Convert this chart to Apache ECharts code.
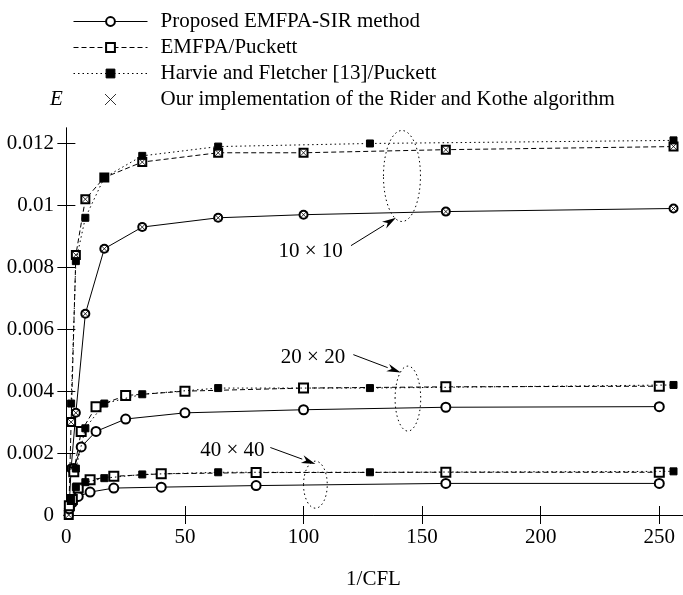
<!DOCTYPE html>
<html>
<head>
<meta charset="utf-8">
<script src="https://cdn.jsdelivr.net/npm/echarts@6/dist/echarts.min.js"></script>
<style>
  html, body { margin: 0; padding: 0; background: #fff; }
  #main { width: 683px; height: 595px; }
</style>
</head>
<body>
<div id="main"></div>
<script>
// series names
const nameP = 'Proposed EMFPA-SIR method';
const nameE = 'EMFPA/Puckett';
const nameH = 'Harvie and Fletcher [13]/Puckett';
const nameR = 'Our implementation of the Rider and Kothe algorithm';

// 10 x 10 mesh
const xP10 = [1, 2, 4, 8, 16, 32, 64, 100, 160, 256];
const yP10 = [0, 0.0015, 0.0033, 0.0065, 0.0086, 0.0093, 0.0096, 0.0097, 0.0098, 0.0099];
const xE10 = [1, 2, 4, 8, 16, 32, 64, 100, 160, 256];
const yE10 = [0, 0.0030, 0.0084, 0.0102, 0.0109, 0.0114, 0.0117, 0.0117, 0.0118, 0.0119];
const xH10 = [2, 4, 8, 16, 32, 64, 128, 256];
const yH10 = [0.0036, 0.0082, 0.0096, 0.0109, 0.0116, 0.0119, 0.0120, 0.0121];
// Rider & Kothe (drawn on the 10 x 10 curves)
const xR10 = [1, 2, 4, 8, 16, 32, 64, 100, 160, 256, 2, 4, 8, 16, 32, 64, 100, 160, 256];
const yR10 = [0, 0.0030, 0.0084, 0.0102, 0.0109, 0.0114, 0.0117, 0.0117, 0.0118, 0.0119,
  0.0015, 0.0033, 0.0065, 0.0086, 0.0093, 0.0096, 0.0097, 0.0098, 0.0099];

// 20 x 20 mesh
const xP20 = [3.125, 6.25, 12.5, 25, 50, 100, 160, 250];
const yP20 = [0.0015, 0.0022, 0.0027, 0.0031, 0.0033, 0.0034, 0.00348, 0.0035];
const xE20 = [3.125, 6.25, 12.5, 25, 50, 100, 160, 250];
const yE20 = [0.0014, 0.0027, 0.0035, 0.00386, 0.0040, 0.0041, 0.00414, 0.00416];
const xH20 = [4, 8, 16, 32, 64, 128, 256];
const yH20 = [0.0015, 0.0028, 0.0036, 0.0039, 0.0041, 0.0041, 0.0042];

// 40 x 40 mesh
const xP40 = [1.25, 2.5, 5, 10, 20, 40, 80, 160, 250];
const yP40 = [0.0002, 0.0004, 0.0006, 0.00074, 0.00087, 0.0009, 0.00095, 0.00102, 0.00102];
const xE40 = [1.25, 2.5, 5, 10, 20, 40, 80, 160, 250];
const yE40 = [0.0003, 0.0005, 0.00087, 0.00114, 0.00125, 0.00133, 0.00137, 0.00138, 0.00138];
const xH40 = [2, 4, 8, 16, 32, 64, 128, 256];
const yH40 = [0.0005, 0.0009, 0.00106, 0.00119, 0.00131, 0.00138, 0.00138, 0.00141];

// tick labels
const xTicks = [0, 50, 100, 150, 200, 250];
const yTicks = [0, 0.002, 0.004, 0.006, 0.008, 0.01, 0.012];

// mesh annotations: label, label pos, arrow tip, ellipse centre / radii (data units)
const meshLabels = ['10 \u00d7 10', '20 \u00d7 20', '40 \u00d7 40'];
const labelPos = [[103, 0.00850], [104, 0.00508], [70, 0.00208]];
const arrowFrom = [[120, 0.00870], [121, 0.00518], [86, 0.00218]];
const arrowTo = [[139, 0.00960], [141, 0.00460], [105, 0.00165]];
const ellipseC = [[141.5, 0.01095], [144, 0.00376], [105, 0.00098]];
const ellipseR = [[7.8, 0.00147], [5.4, 0.00105], [5.0, 0.00076]];

const FONT = 'Liberation Serif';
const zip = (xs, ys) => xs.map((x, i) => [x, ys[i]]);
const cross = 'path://M0,0L10,10M10,0L0,10';

function lineSeries(name, xs, ys, type, symbol, size) {
  return {
    name: name,
    type: 'line',
    data: zip(xs, ys),
    symbol: symbol,
    symbolSize: size,
    showAllSymbol: true,
    color: '#000',
    itemStyle: { color: '#000', borderColor: '#000', borderWidth: 1 },
    lineStyle: { color: '#000', width: 1, type: type },
    emphasis: { disabled: true },
    animation: false,
    z: symbol === 'rect' ? 3 : 2
  };
}

const dashed = [5, 3];
const dotted = [1.5, 3];

const chart = echarts.init(document.getElementById('main'), null, { renderer: 'canvas' });

const option = {
  backgroundColor: '#fff',
  animation: false,
  textStyle: { fontFamily: FONT },
  legend: {
    orient: 'vertical',
    left: 73,
    top: 11,
    padding: 0,
    itemWidth: 74,
    itemHeight: 11,
    itemGap: 5,
    data: [nameP, nameE, nameH, nameR],
    lineStyle: { width: 1 },
    itemStyle: { borderWidth: 1 },
    textStyle: { fontFamily: FONT, fontSize: 21, color: '#000', padding: [0, 0, 0, 8] },
    selectedMode: false
  },
  grid: { left: 64, right: -6, top: 128, bottom: 75, containLabel: false },
  xAxis: [{
    type: 'value',
    min: -1,
    max: 260,
    axisLine: { lineStyle: { color: '#000', width: 1 } },
    axisTick: { inside: true, length: 9, customValues: xTicks.slice(1), lineStyle: { color: '#000' } },
    axisLabel: { customValues: xTicks, color: '#000', fontSize: 21, fontFamily: FONT, margin: 12 },
    splitLine: { show: false },
    name: '1/CFL',
    nameLocation: 'middle',
    nameGap: 54,
    nameTextStyle: { color: '#000', fontSize: 21, fontFamily: FONT }
  }, {
    type: 'value',
    position: 'top',
    min: -1,
    max: 260,
    axisLine: { lineStyle: { color: '#000', width: 1 } },
    axisTick: { inside: true, length: 9, customValues: xTicks.slice(1), lineStyle: { color: '#000' } },
    axisLabel: { show: false },
    splitLine: { show: false }
  }],
  yAxis: [{
    type: 'value',
    min: 0,
    max: 0.0125,
    axisLine: { show: true, lineStyle: { color: '#000', width: 1 } },
    axisTick: { show: true, inside: true, length: 9, customValues: yTicks.slice(1), lineStyle: { color: '#000' } },
    axisLabel: {
      customValues: yTicks, color: '#000', fontSize: 21, fontFamily: FONT, margin: 10,
      formatter: v => v === 0 ? '0' : String(+v.toFixed(3))
    },
    splitLine: { show: false }
  }, {
    type: 'value',
    position: 'right',
    min: 0,
    max: 0.0125,
    axisLine: { show: true, lineStyle: { color: '#000', width: 1 } },
    axisTick: { show: true, inside: true, length: 9, customValues: yTicks.slice(1), lineStyle: { color: '#000' } },
    axisLabel: { show: false },
    splitLine: { show: false }
  }],
  series: [
    lineSeries(nameP, xP10, yP10, 'solid', 'emptyCircle', 8),
    lineSeries(nameE, xE10, yE10, dashed, 'emptyRect', 8),
    lineSeries(nameH, xH10, yH10, dotted, 'rect', 7),
    lineSeries(nameP, xP20, yP20, 'solid', 'emptyCircle', 9),
    lineSeries(nameE, xE20, yE20, dashed, 'emptyRect', 9),
    lineSeries(nameH, xH20, yH20, dotted, 'rect', 7),
    lineSeries(nameP, xP40, yP40, 'solid', 'emptyCircle', 9),
    lineSeries(nameE, xE40, yE40, dashed, 'emptyRect', 9),
    lineSeries(nameH, xH40, yH40, dotted, 'rect', 7),
    {
      name: nameR,
      type: 'scatter',
      data: zip(xR10, yR10),
      symbol: cross,
      symbolSize: 7,
      itemStyle: { color: 'rgba(0,0,0,0)', borderColor: '#000', borderWidth: 1 },
      emphasis: { disabled: true },
      z: 4
    }
  ]
};

chart.setOption(option);

// annotations placed through the axes' own scales
function px(p) { return chart.convertToPixel({ gridIndex: 0 }, p); }
const graphics = [];
graphics.push({
  type: 'text', left: 50, top: 89,
  style: { text: 'E', font: 'italic 21px ' + FONT, fill: '#000' }
});
meshLabels.forEach((lab, i) => {
  const c = px(ellipseC[i]);
  const e = px([ellipseC[i][0] + ellipseR[i][0], ellipseC[i][1] + ellipseR[i][1]]);
  graphics.push({
    type: 'ellipse',
    shape: { cx: c[0], cy: c[1], rx: e[0] - c[0], ry: c[1] - e[1] },
    style: { fill: 'none', stroke: '#000', lineWidth: 1, lineDash: [1.5, 3] },
    z: 10
  });
  const lp = px(labelPos[i]);
  graphics.push({
    type: 'text', x: lp[0], y: lp[1],
    style: { text: lab, font: '21px ' + FONT, fill: '#000', align: 'center', verticalAlign: 'middle' },
    z: 10
  });
  const a = px(arrowFrom[i]);
  const b = px(arrowTo[i]);
  const ang = Math.atan2(b[1] - a[1], b[0] - a[0]);
  const L = 14, W = 4;
  const bx = b[0] - L * Math.cos(ang), by = b[1] - L * Math.sin(ang);
  graphics.push({
    type: 'line',
    shape: { x1: a[0], y1: a[1], x2: bx, y2: by },
    style: { stroke: '#000', lineWidth: 1 },
    z: 10
  });
  graphics.push({
    type: 'polygon',
    shape: {
      points: [
        [b[0], b[1]],
        [bx - W * Math.sin(ang), by + W * Math.cos(ang)],
        [b[0] - 0.7 * L * Math.cos(ang), b[1] - 0.7 * L * Math.sin(ang)],
        [bx + W * Math.sin(ang), by - W * Math.cos(ang)]
      ]
    },
    style: { fill: '#000' },
    z: 10
  });
});
chart.setOption({ graphic: graphics });
</script>
</body>
</html>
